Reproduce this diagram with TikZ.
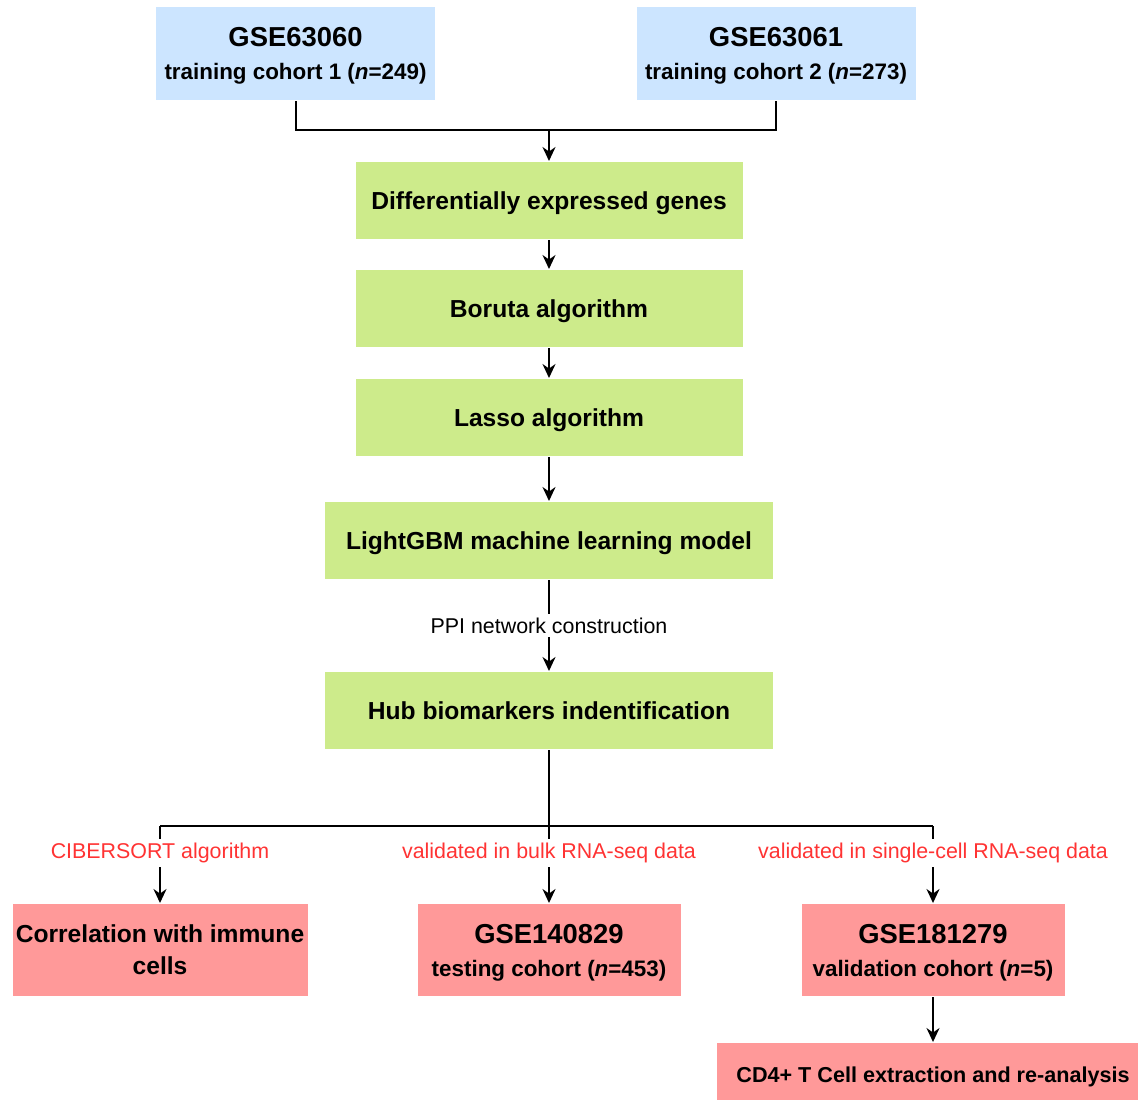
\documentclass[tikz,border=0pt]{standalone}
\usepackage{fontspec}
\setmainfont{Liberation Sans}
\usetikzlibrary{arrows.meta}
\definecolor{cohortblue}{RGB}{204,229,255}
\definecolor{stepgreen}{RGB}{205,235,139}
\definecolor{outred}{RGB}{255,153,153}
\definecolor{lblred}{RGB}{255,51,51}
\newcommand{\gseid}[1]{{\fontsize{13.7}{16}\selectfont #1}}

\begin{document}
\begin{tikzpicture}
  [x=0.5pt,y=-0.5pt,line width=1pt,>={Stealth[length=7pt,width=6.5pt]},
   cohort/.style={rectangle, fill=cohortblue, minimum width=139.5pt, minimum height=46.5pt, text depth=0pt, align=center, font=\fontsize{11.2}{13}\selectfont\bfseries},
   stepbox/.style={rectangle, fill=stepgreen, minimum width=193.5pt, minimum height=38.5pt, text depth=0pt, font=\fontsize{12.3}{14}\selectfont\bfseries},
   outbox/.style={rectangle, fill=outred, minimum width=131.5pt, minimum height=46pt, text depth=0pt, align=center, font=\fontsize{11.2}{13}\selectfont\bfseries},
   lbl/.style={fill=white, inner sep=2pt, font=\fontsize{10.7}{13}\selectfont}]
  \useasboundingbox (0,0) rectangle (1138,1099);

  \node[cohort] (gse1) at (295.5,53.5) {\gseid{GSE63060}\\[3.5pt]training cohort 1 (\textit{n}=249)};
  \node[cohort] (gse2) at (776,53.5) {\gseid{GSE63061}\\[3.5pt]training cohort 2 (\textit{n}=273)};

  \node[stepbox] (deg) at (549,200.5) {Differentially expressed genes};
  \node[stepbox] (boruta) at (549,308.5) {Boruta algorithm};
  \node[stepbox] (lasso) at (549,417.5) {Lasso algorithm};
  \node[stepbox, minimum width=224pt] (lgbm) at (549,540.5) {LightGBM machine learning model};
  \node[stepbox, minimum width=224pt] (hub) at (549,710.5) {Hub biomarkers indentification};

  \node[outbox, minimum width=147.5pt, inner xsep=0pt, font=\fontsize{12.3}{14}\selectfont\bfseries] (corr) at (160,950) {Correlation with immune\\[2pt]cells};
  \node[outbox] (test) at (549,950) {\gseid{GSE140829}\\[3.5pt]testing cohort (\textit{n}=453)};
  \node[outbox] (valid) at (933,950) {\gseid{GSE181279}\\[3.5pt]validation cohort (\textit{n}=5)};
  \node[outbox, minimum width=216pt, minimum height=32pt, font=\fontsize{10.8}{13}\selectfont\bfseries] (cd4) at (933,1075) {CD4+ T Cell extraction and re-analysis};

  % training cohorts merge
  \coordinate (join) at (549,130);
  \draw (gse1.south) |- (join) -| (gse2.south);
  \draw[->] (join) -- (deg);

  \foreach \from/\to in {deg/boruta,boruta/lasso,lasso/lgbm}
    \draw[->] (\from) -- (\to);
  \draw[->] (lgbm) -- node[lbl] (ppi) {PPI network construction} (hub);

  % three branches
  \coordinate (split) at (549,826);
  \coordinate (splitL) at (160,826);
  \coordinate (splitR) at (933,826);
  \draw (hub) -- (split);
  \draw (splitL) -- (splitR);
  \draw[->] (splitL) -- node[lbl, text=lblred, pos=0.35] (cib) {CIBERSORT algorithm} (corr);
  \draw[->] (split) -- node[lbl, text=lblred, pos=0.35] (bulk) {validated in bulk RNA-seq data} (test);
  \draw[->] (splitR) -- node[lbl, text=lblred, pos=0.35] (sc) {validated in single-cell RNA-seq data} (valid);
  \draw[->] (valid) -- (cd4);

\end{tikzpicture}
\end{document}
